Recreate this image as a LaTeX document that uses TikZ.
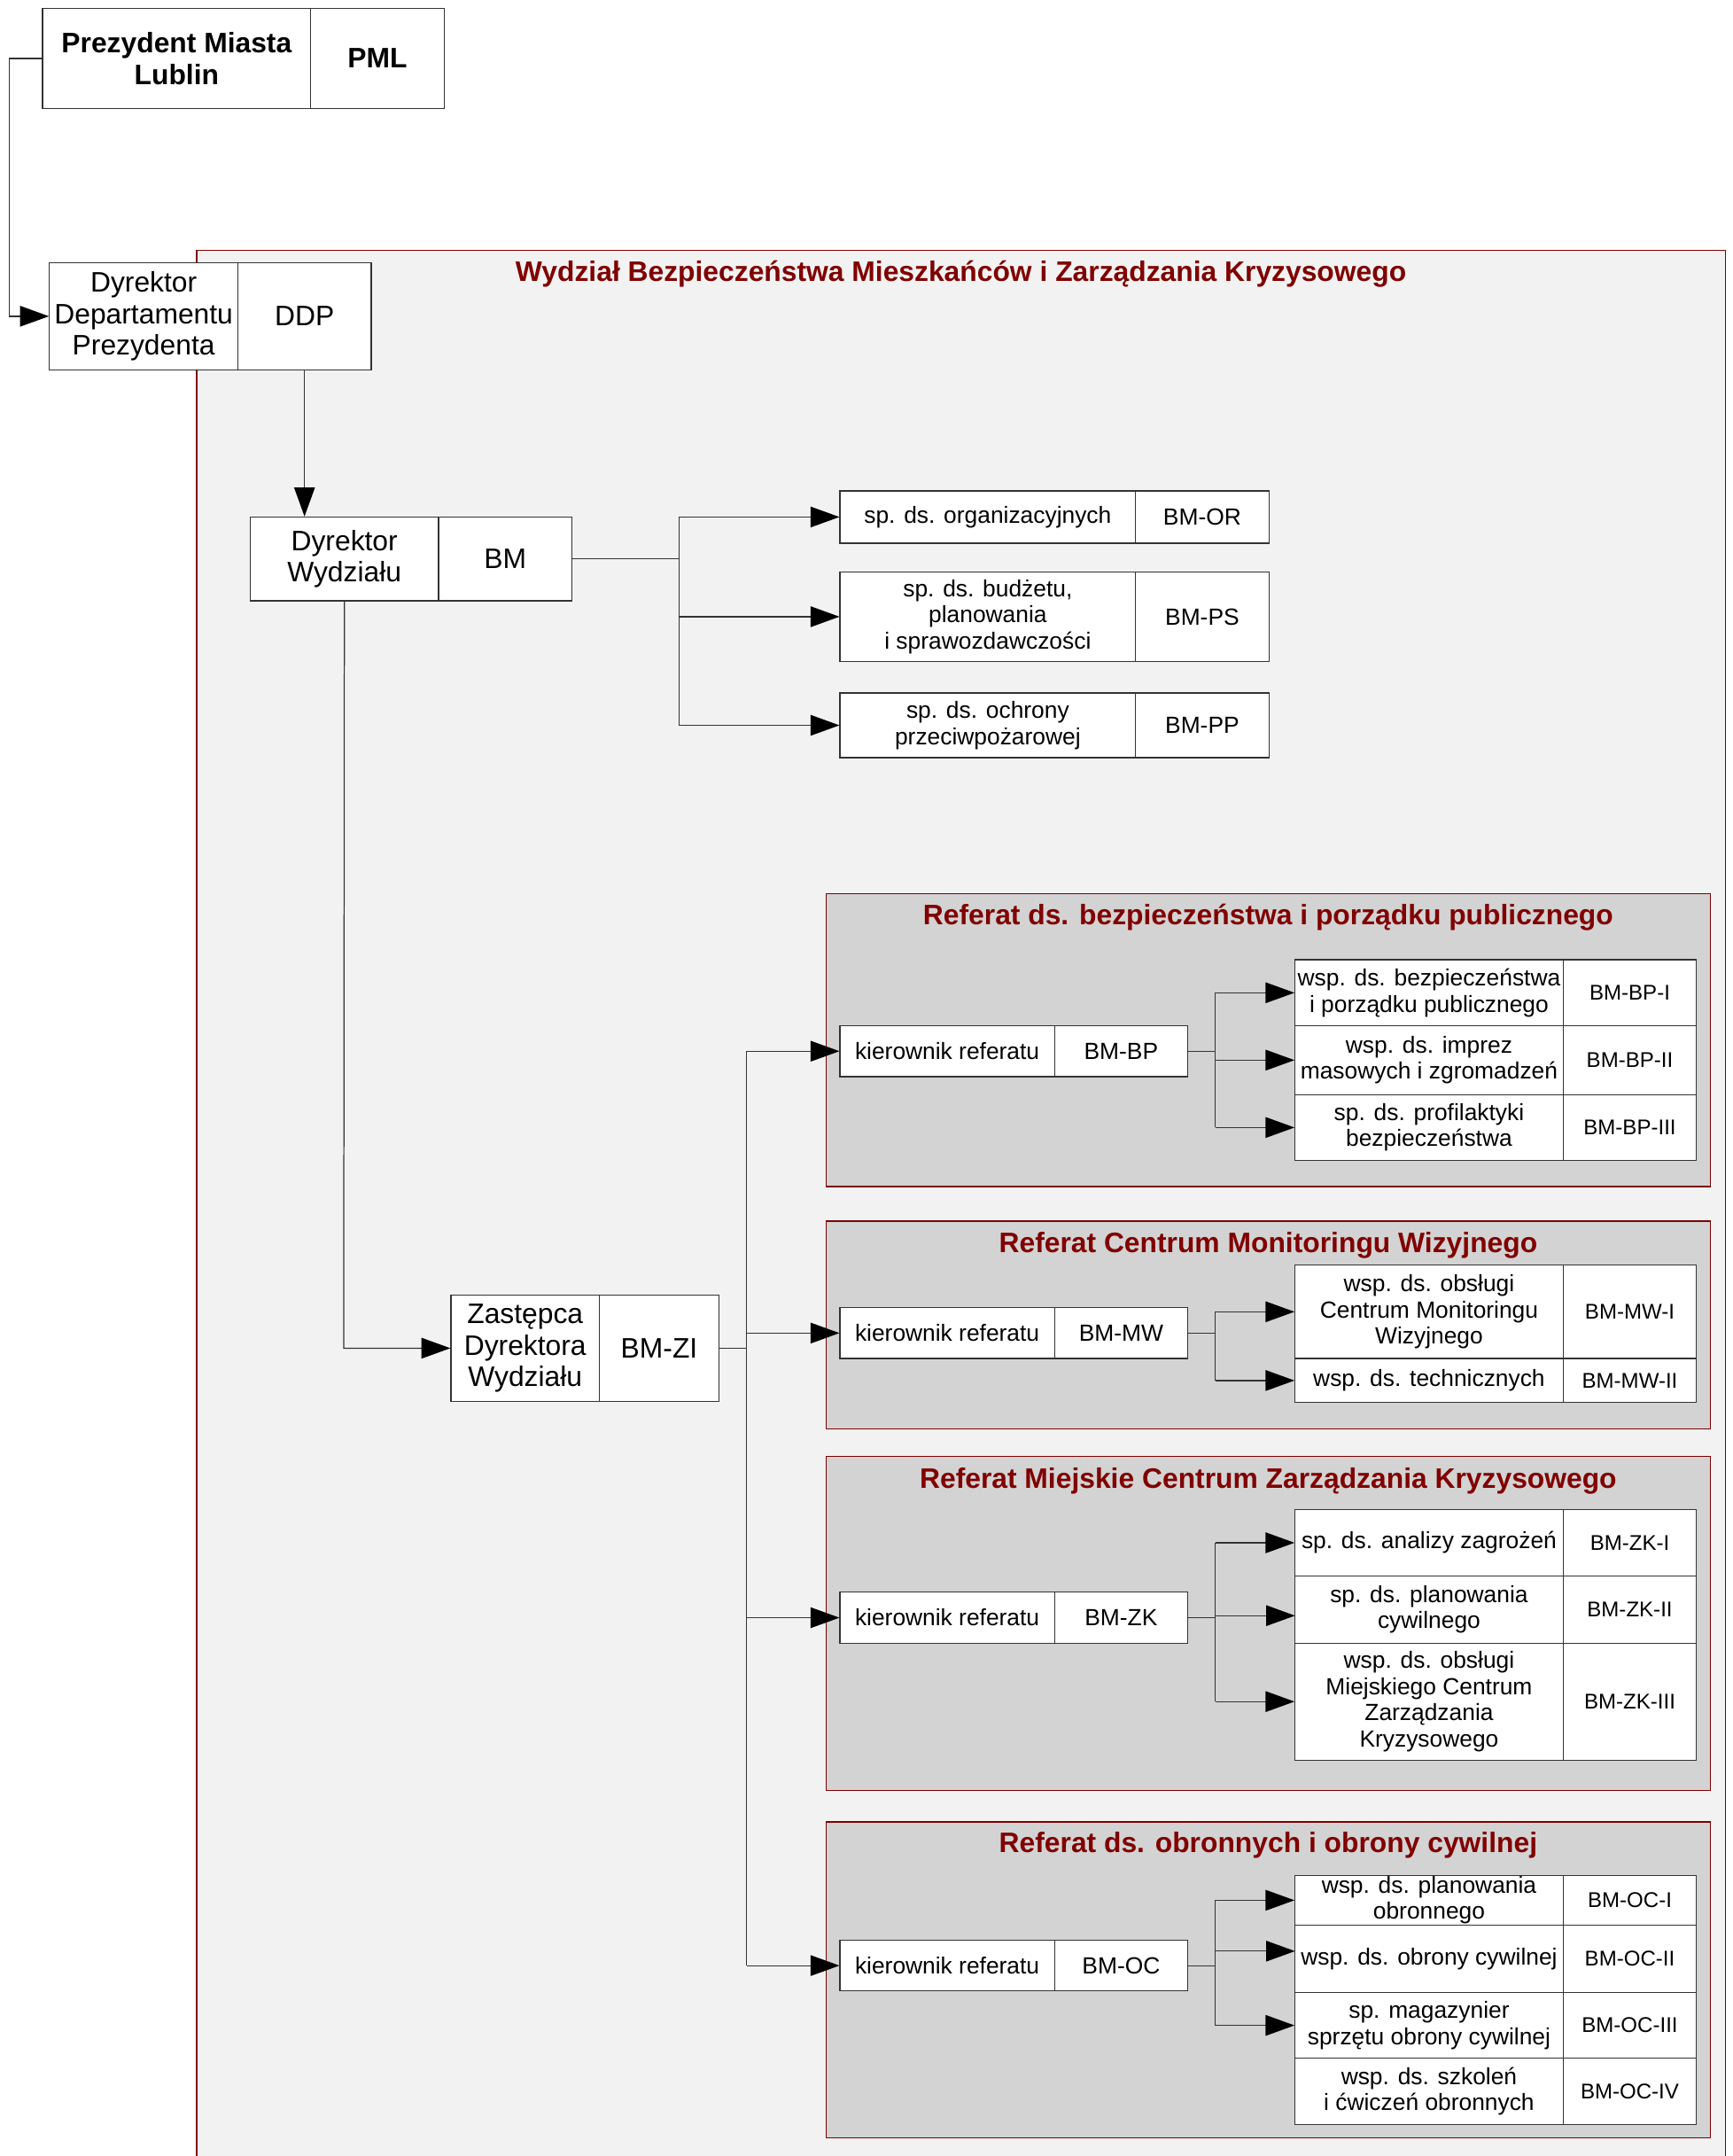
\documentclass[tikz,border=0pt]{standalone}
\usepackage{fontspec}
\setmainfont{Liberation Sans}
\usetikzlibrary{arrows.meta,calc}
\definecolor{maroon}{HTML}{800000}
\definecolor{panelfill}{HTML}{F2F2F2}
\definecolor{reffill}{HTML}{D3D3D3}
\definecolor{linegray}{HTML}{333333}
\tikzset{
  cell/.style={draw=linegray, fill=white, inner sep=0pt, align=center, line width=0.8pt},
  big/.style={font=\fontsize{20.5}{23}\selectfont},
  bigbold/.style={font=\fontsize{20.5}{23}\selectfont\bfseries},
  norm/.style={font=\fontsize{17}{19}\selectfont},
  small/.style={font=\fontsize{15.5}{18}\selectfont},
  panel/.style={draw=maroon, fill=panelfill, line width=0.8pt},
  refpanel/.style={draw=maroon, fill=reffill, line width=0.8pt},
  ptitle/.style={font=\fontsize{20.5}{23}\selectfont\bfseries, text=maroon, inner sep=0pt},
  conn/.style={draw=linegray, line width=0.8pt},
  arr/.style={conn, -{Triangle[length=21pt,width=15pt,color=black]}}
}
% box macro: name, x1, xd, x2, y1, y2, left text, left style, right style; right text in \boxcode
\newcommand{\twobox}[9]{%
  \node[cell,#8,minimum width={(#3-#2)*1pt},minimum height={(#6-#5)*1pt}] (#1L) at ({(#2+#3)/2},{(#5+#6)/2}) {#7};
  \node[cell,#9,minimum width={(#4-#3)*1pt},minimum height={(#6-#5)*1pt}] (#1R) at ({(#3+#4)/2},{(#5+#6)/2}) {\boxcode};
}
\begin{document}
\begin{tikzpicture}[x=1pt,y=-1pt]
\useasboundingbox (0,0) rectangle (1260,1568);
% outer panel
\path[panel] (143,182) rectangle (1255,1580);
\node[ptitle] (wtitle) at (699,199) {Wydział Bezpieczeństwa Mieszkańców i Zarządzania Kryzysowego};
% referat panels
\path[refpanel] (601,650) rectangle (1244,863);
\node[ptitle] (t1) at (922.5,667) {Referat ds. bezpieczeństwa i porządku publicznego};
\path[refpanel] (601,888) rectangle (1244,1039);
\node[ptitle] (t2) at (922.5,906) {Referat Centrum Monitoringu Wizyjnego};
\path[refpanel] (601,1059) rectangle (1244,1302);
\node[ptitle] (t3) at (922.5,1077) {Referat Miejskie Centrum Zarządzania Kryzysowego};
\path[refpanel] (601,1325) rectangle (1244,1555);
\node[ptitle] (t4) at (922.5,1342) {Referat ds. obronnych i obrony cywilnej};

% boxes
\def\boxcode{PML}\twobox{pml}{31}{226}{323}{6}{79}{Prezydent Miasta\\Lublin}{bigbold}{bigbold}
\def\boxcode{DDP}\twobox{ddp}{36}{173}{270}{191}{269}{Dyrektor\\Departamentu\\Prezydenta}{big}{big}
\def\boxcode{BM}\twobox{bm}{182}{319}{416}{376}{437}{Dyrektor\\Wydziału}{big}{big}
\def\boxcode{BM-OR}\twobox{or}{611}{826}{923}{357}{395}{sp. ds. organizacyjnych}{norm}{norm}
\def\boxcode{BM-PS}\twobox{ps}{611}{826}{923}{416}{481}{sp. ds. budżetu,\\planowania\\i sprawozdawczości}{norm}{norm}
\def\boxcode{BM-PP}\twobox{pp}{611}{826}{923}{504}{551}{sp. ds. ochrony\\przeciwpożarowej}{norm}{norm}
\def\boxcode{BM-ZI}\twobox{zi}{328}{436}{523}{942}{1019}{Zastępca\\Dyrektora\\Wydziału}{big}{big}

\def\boxcode{BM-BP}\twobox{kbp}{611}{767}{864}{746}{783}{kierownik referatu}{norm}{norm}
\def\boxcode{BM-MW}\twobox{kmw}{611}{767}{864}{951}{988}{kierownik referatu}{norm}{norm}
\def\boxcode{BM-ZK}\twobox{kzk}{611}{767}{864}{1158}{1195}{kierownik referatu}{norm}{norm}
\def\boxcode{BM-OC}\twobox{koc}{611}{767}{864}{1411}{1448}{kierownik referatu}{norm}{norm}

\def\boxcode{BM-BP-I}\twobox{bpa}{942}{1137}{1234}{698}{746}{wsp. ds. bezpieczeństwa\\i porządku publicznego}{norm}{small}
\def\boxcode{BM-BP-II}\twobox{bpb}{942}{1137}{1234}{746}{796}{wsp. ds. imprez\\masowych i zgromadzeń}{norm}{small}
\def\boxcode{BM-BP-III}\twobox{bpc}{942}{1137}{1234}{796}{844}{sp. ds. profilaktyki\\bezpieczeństwa}{norm}{small}

\def\boxcode{BM-MW-I}\twobox{mwa}{942}{1137}{1234}{920}{988}{wsp. ds. obsługi\\Centrum Monitoringu\\Wizyjnego}{norm}{small}
\def\boxcode{BM-MW-II}\twobox{mwb}{942}{1137}{1234}{988}{1020}{wsp. ds. technicznych}{norm}{small}

\def\boxcode{BM-ZK-I}\twobox{zka}{942}{1137}{1234}{1098}{1146}{sp. ds. analizy zagrożeń}{norm}{small}
\def\boxcode{BM-ZK-II}\twobox{zkb}{942}{1137}{1234}{1146}{1195}{sp. ds. planowania\\cywilnego}{norm}{small}
\def\boxcode{BM-ZK-III}\twobox{zkc}{942}{1137}{1234}{1195}{1280}{wsp. ds. obsługi\\Miejskiego Centrum\\Zarządzania\\Kryzysowego}{norm}{small}

\def\boxcode{BM-OC-I}\twobox{oca}{942}{1137}{1234}{1364}{1400}{wsp. ds. planowania\\obronnego}{norm}{small}
\def\boxcode{BM-OC-II}\twobox{ocb}{942}{1137}{1234}{1400}{1449}{wsp. ds. obrony cywilnej}{norm}{small}
\def\boxcode{BM-OC-III}\twobox{occ}{942}{1137}{1234}{1449}{1497}{sp. magazynier\\sprzętu obrony cywilnej}{norm}{small}
\def\boxcode{BM-OC-IV}\twobox{ocd}{942}{1137}{1234}{1497}{1545}{wsp. ds. szkoleń\\i ćwiczeń obronnych}{norm}{small}

% connectors
\coordinate (c0) at (7,43);
\draw[arr] (pmlL.west) -- (pmlL.west -| c0) |- (ddpL.west);
\draw[arr] (ddpR.south) -- (ddpR.south |- bmL.north);

\coordinate (f1) at (494,407);
\draw[conn] (bmR.east) -- (bmR.east -| f1);
\draw[conn] (f1 |- orL.west) -- (f1 |- ppL.west);
\draw[arr] (f1 |- orL.west) -- (orL.west);
\draw[arr] (f1 |- psL.west) -- (psL.west);
\draw[arr] (f1 |- ppL.west) -- (ppL.west);

\coordinate (c1) at (250,981);
\draw[arr] (bmL.south) -- (c1 |- ziL.west) -- (ziL.west);

\coordinate (f2) at (543,981);
\draw[conn] (ziR.east) -- (ziR.east -| f2);
\draw[conn] (f2 |- kbpL.west) -- (f2 |- kocL.west);
\draw[arr] (f2 |- kbpL.west) -- (kbpL.west);
\draw[arr] (f2 |- kmwL.west) -- (kmwL.west);
\draw[arr] (f2 |- kzkL.west) -- (kzkL.west);
\draw[arr] (f2 |- kocL.west) -- (kocL.west);

\coordinate (g1) at (884,765);
\draw[conn] (kbpR.east) -- (kbpR.east -| g1);
\draw[conn] (g1 |- bpaL.west) -- (g1 |- bpcL.west);
\draw[arr] (g1 |- bpaL.west) -- (bpaL.west);
\draw[arr] (g1 |- bpbL.west) -- (bpbL.west);
\draw[arr] (g1 |- bpcL.west) -- (bpcL.west);

\coordinate (g2) at (884,970);
\draw[conn] (kmwR.east) -- (kmwR.east -| g2);
\draw[conn] (g2 |- mwaL.west) -- (g2 |- mwbL.west);
\draw[arr] (g2 |- mwaL.west) -- (mwaL.west);
\draw[arr] (g2 |- mwbL.west) -- (mwbL.west);

\coordinate (g3) at (884,1177);
\coordinate (zkbin) at (942,1175);
\draw[conn] (kzkR.east) -- (kzkR.east -| g3);
\draw[conn] (g3 |- zkaL.west) -- (g3 |- zkcL.west);
\draw[arr] (g3 |- zkaL.west) -- (zkaL.west);
\draw[arr] (g3 |- zkbin) -- (zkbin);
\draw[arr] (g3 |- zkcL.west) -- (zkcL.west);

\coordinate (g4) at (884,1430);
\coordinate (ocbin) at (942,1419);
\draw[conn] (kocR.east) -- (kocR.east -| g4);
\draw[conn] (g4 |- ocaL.west) -- (g4 |- occL.west);
\draw[arr] (g4 |- ocaL.west) -- (ocaL.west);
\draw[arr] (g4 |- ocbin) -- (ocbin);
\draw[arr] (g4 |- occL.west) -- (occL.west);
\end{tikzpicture}
\end{document}
